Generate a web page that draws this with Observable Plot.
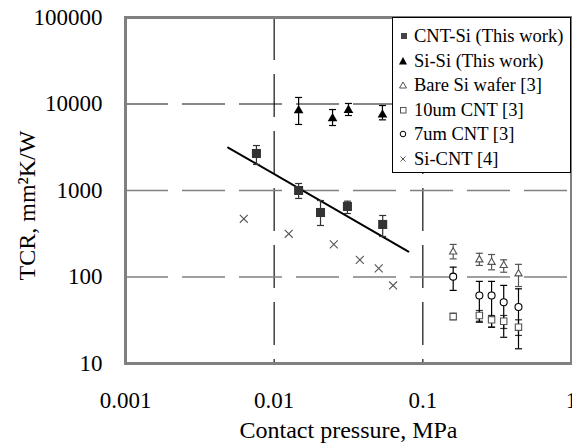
<!DOCTYPE html>
<html><head><meta charset="utf-8">
<script src="https://cdn.jsdelivr.net/npm/d3@7"></script>
<script src="https://cdn.jsdelivr.net/npm/@observablehq/plot@0.6"></script>
<style>
body{margin:0;background:#fff;}
#wrap{position:relative;width:572px;height:446px;}
#legend{position:absolute;left:392px;top:17px;width:179px;height:156px;border:1px solid #000;background:#fff;box-sizing:border-box;font-family:"Liberation Serif",serif;font-size:18.5px;color:#000;}
.row{position:absolute;left:0;height:24px;line-height:24px;white-space:nowrap;}
.row svg{position:absolute;left:3px;top:5px;}
.row span{position:absolute;left:21px;top:0;}
</style></head><body><div id="wrap"><div id="legend"></div></div>
<script>
// axes
const xTicks = [0.001, 0.01, 0.1, 1];
const xTickLabels = ["0.001", "0.01", "0.1", "1"];
const yTicks = [10, 100, 1000, 10000, 100000];
const yTickLabels = ["10", "100", "1000", "10000", "100000"];
const xGrid = [0.01, 0.1];
const yGridDark = [10000];
const yGridLight = [100, 1000];
const xTitle = "Contact pressure, MPa";
const yTitle = "TCR, mm²K/W";

// CNT-Si (This work)
const cntSiX  = [0.0076, 0.0146, 0.0205, 0.0311, 0.0537];
const cntSiY  = [2680, 1000, 557, 653, 405];
const cntSiLo = [2000, 809, 394, 542, 294];
const cntSiHi = [3310, 1205, 766, 752, 514];
// CNT-Si trend line
const fitX = [0.0049, 0.080];
const fitY = [3140, 197];

// Si-Si (This work)
const siSiX  = [0.0146, 0.0247, 0.0316, 0.0535];
const siSiY  = [8410, 6790, 8490, 7500];
const siSiLo = [5800, 5640, 7360, 6560];
const siSiHi = [11900, 8630, 10140, 9600];

// Bare Si wafer [3], 10um CNT [3], 7um CNT [3]
const refX    = [0.16, 0.24, 0.29, 0.35, 0.44];
const bareY   = [195, 158, 148, 136, 109];
const bareLo  = [162, 136, 121, 113.5, 77.6];
const bareHi  = [238, 188, 182, 158, 140];
const um10Y   = [34.9, 35.9, 32, 30.8, 26.3];
const um10Lo  = [32, 30.8, 26.3, 25.4, 21.1];
const um10Hi  = [38, 41, 35.9, 35.9, 32];
const um7Y    = [101, 61, 61, 51, 45];
const um7Lo   = [70, 30, 26.3, 20.1, 14.8];
const um7Hi   = [130, 89, 89, 80, 73];

// Si-CNT [4]
const siCntX = [0.00625, 0.01253, 0.02518, 0.0377, 0.0505, 0.0631];
const siCntY = [471, 316, 238, 158, 126, 79.8];

const legendLabels = ["CNT-Si (This work)", "Si-Si (This work)", "Bare Si wafer [3]", "10um CNT [3]", "7um CNT [3]", "Si-CNT [4]"];

const tbl = (xs, ys, lo, hi) => xs.map((x, i) => ({x, y: ys[i], lo: lo ? lo[i] : null, hi: hi ? hi[i] : null}));
const cntSi = tbl(cntSiX, cntSiY, cntSiLo, cntSiHi);
const siSi = tbl(siSiX, siSiY, siSiLo, siSiHi);
const bare = tbl(refX, bareY, bareLo, bareHi);
const um10 = tbl(refX, um10Y, um10Lo, um10Hi);
const um7 = tbl(refX, um7Y, um7Lo, um7Hi);
const siCnt = tbl(siCntX, siCntY);
const fit = tbl(fitX, fitY);

const cap = {draw(ctx) { ctx.moveTo(-3.5, 0); ctx.lineTo(3.5, 0); }};
const errMarks = (data, color) => [
  Plot.ruleX(data, {x: "x", y1: "lo", y2: "hi", stroke: color, strokeWidth: 1.2}),
  Plot.dot(data, {x: "x", y: "lo", symbol: cap, stroke: color, strokeWidth: 1.2, fill: "none"}),
  Plot.dot(data, {x: "x", y: "hi", symbol: cap, stroke: color, strokeWidth: 1.2, fill: "none"})
];

const plot = Plot.plot({
  width: 572, height: 446,
  marginLeft: 125, marginRight: 1, marginTop: 17, marginBottom: 83,
  style: {fontFamily: "'Liberation Serif', serif", fontSize: "23px", background: "#fff", color: "#000"},
  x: {type: "log", domain: [0.001, 1]},
  y: {type: "log", domain: [10, 100000]},
  marks: [
    Plot.ruleX(xGrid, {stroke: "#111", strokeWidth: 1.2, strokeDasharray: "43,14"}),
    Plot.ruleY(yGridLight, {stroke: "#808080", strokeWidth: 1.6, strokeDasharray: "43,14"}),
    Plot.ruleY(yGridDark, {stroke: "#111", strokeWidth: 1.2, strokeDasharray: "43,14"}),
    Plot.axisX({ticks: xTicks, tickSize: 0, tickPadding: 28, tickFormat: d => xTickLabels[xTicks.indexOf(d)], label: null}),
    Plot.axisY({ticks: yTicks, tickSize: 0, tickPadding: 23, tickFormat: d => yTickLabels[yTicks.indexOf(d)], label: null}),
    Plot.text([xTitle], {text: d => d, frameAnchor: "bottom", textAnchor: "middle", lineAnchor: "middle", dy: 67, fontSize: 24}),
    Plot.text([yTitle], {text: d => d, frameAnchor: "left", textAnchor: "middle", lineAnchor: "middle", rotate: -90, dx: -98, dy: 15, fontSize: 24}),
    Plot.line(fit, {x: "x", y: "y", stroke: "#000", strokeWidth: 2}),
    ...errMarks(cntSi, "#333"),
    ...errMarks(siSi, "#000"),
    ...errMarks(bare, "#555"),
    ...errMarks(um10, "#333"),
    ...errMarks(um7, "#000"),
    Plot.dot(cntSi, {x: "x", y: "y", symbol: "square", r: 5.1, fill: "#333", stroke: "none"}),
    Plot.dot(siSi, {x: "x", y: "y", symbol: "triangle", r: 3.6, fill: "#000", stroke: "none"}),
    Plot.dot(bare, {x: "x", y: "y", symbol: "triangle", r: 2.7, fill: "#fff", stroke: "#555", strokeWidth: 1.1}),
    Plot.dot(um10, {x: "x", y: "y", symbol: "square", r: 3.6, fill: "#fff", stroke: "#555", strokeWidth: 1.1}),
    Plot.dot(um7, {x: "x", y: "y", symbol: "circle", r: 3.5, fill: "#fff", stroke: "#000", strokeWidth: 1.1}),
    Plot.dot(siCnt, {x: "x", y: "y", symbol: "times", r: 3.7, stroke: "#555", strokeWidth: 1.1}),
    Plot.frame({stroke: "#808080", strokeWidth: 3})
  ]
});
const wrap = document.getElementById("wrap");
wrap.insertBefore(plot, wrap.firstChild);

// legend
const legendSymbols = [
  '<rect x="5" y="4" width="6" height="6" fill="#444"/>',
  '<path d="M3,10.5 L7,3 L11,10.5 Z" fill="#000"/>',
  '<path d="M3.5,10 L7,4 L10.5,10 Z" fill="none" stroke="#555" stroke-width="1"/>',
  '<rect x="4.5" y="4.5" width="5.5" height="5.5" fill="none" stroke="#555" stroke-width="1"/>',
  '<circle cx="7" cy="7" r="2.8" fill="none" stroke="#000" stroke-width="1"/>',
  '<path d="M4.5,4.5 L9.5,9.5 M4.5,9.5 L9.5,4.5" stroke="#555" stroke-width="1"/>'
];
const leg = document.getElementById("legend");
legendLabels.forEach((t, i) => {
  const row = document.createElement("div");
  row.className = "row";
  row.style.top = (6 + i * 24.6) + "px";
  row.innerHTML = '<svg width="14" height="14">' + legendSymbols[i] + '</svg><span>' + t + '</span>';
  leg.appendChild(row);
});
</script>
</body></html>
